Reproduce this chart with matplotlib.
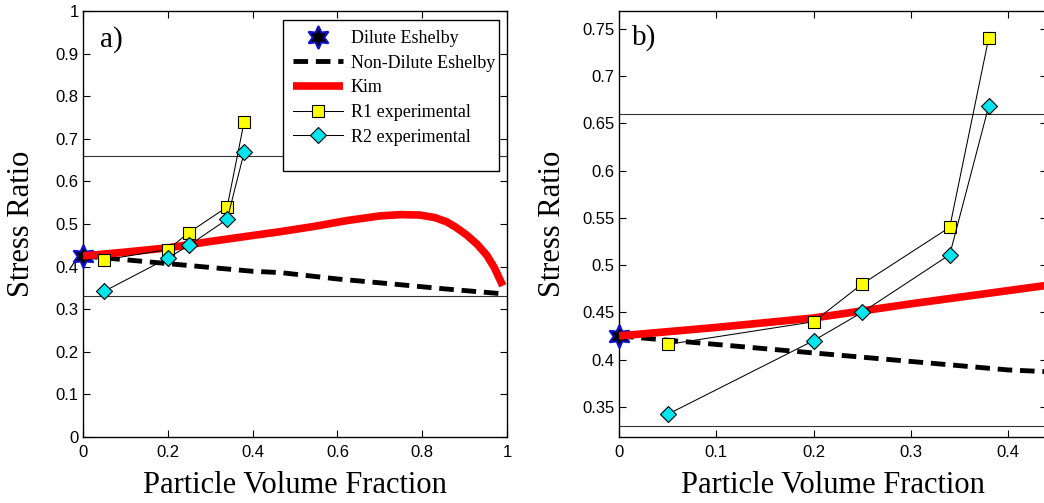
import matplotlib
matplotlib.use("Agg")
import matplotlib.pyplot as plt
from matplotlib.patches import Rectangle

# data
dilute_x = [0.0]
dilute_y = [0.425]

nondilute_x = [0.0, 0.1, 0.2, 0.3, 0.4, 0.465, 0.6, 0.732, 0.85, 0.98]
nondilute_y = [0.425, 0.416, 0.407, 0.398, 0.389, 0.386, 0.371, 0.359, 0.348, 0.337]

kim_x = [0.0, 0.1, 0.2, 0.3, 0.4, 0.465, 0.543, 0.622, 0.7, 0.75, 0.795,
         0.83, 0.858, 0.88, 0.905, 0.93, 0.952, 0.97, 0.99]
kim_y = [0.425, 0.434, 0.444, 0.459, 0.473, 0.482, 0.494, 0.508, 0.519, 0.522, 0.521,
         0.515, 0.505, 0.492, 0.474, 0.452, 0.427, 0.398, 0.355]

r1_x = [0.05, 0.2, 0.25, 0.34, 0.38]
r1_y = [0.416, 0.44, 0.48, 0.54, 0.74]

r2_x = [0.05, 0.2, 0.25, 0.34, 0.38]
r2_y = [0.342, 0.42, 0.45, 0.511, 0.668]

ref_lines = [0.66, 0.33]

serif = "Liberation Serif"
sans = "Liberation Sans"


def draw_panel(ax, ylabelpad):
    for yv in ref_lines:
        ax.axhline(yv, color="#333333", lw=0.8, zorder=1)
    ax.plot(dilute_x, dilute_y, linestyle="none", marker=(6, 1, 0), markersize=16.5,
            markerfacecolor="black", markeredgecolor="#1010d0", markeredgewidth=1.5,
            label="Dilute Eshelby", zorder=3, clip_on=False)
    ax.plot(nondilute_x, nondilute_y, color="black", lw=3.5, dashes=(3, 1.6),
            label="Non-Dilute Eshelby", zorder=3)
    ax.plot(kim_x, kim_y, color="#ff0000", lw=5.5, solid_capstyle="butt",
            label="Kim", zorder=4)
    ax.plot(r1_x, r1_y, color="black", lw=0.75, marker="s", markersize=9,
            markerfacecolor="#ffff00", markeredgecolor="black", markeredgewidth=0.8,
            label="R1 experimental", zorder=5)
    ax.plot(r2_x, r2_y, color="black", lw=0.75, marker="D", markersize=8,
            markerfacecolor="#00e5ee", markeredgecolor="black", markeredgewidth=0.8,
            label="R2 experimental", zorder=6)

    ax.tick_params(direction="in", length=5, width=0.8, top=True, right=True,
                   labelsize=12)
    ax.tick_params(axis="x", pad=6)
    ax.tick_params(axis="y", pad=3)
    for lbl in ax.get_xticklabels() + ax.get_yticklabels():
        lbl.set_family(sans)
    for sp in ax.spines.values():
        sp.set_linewidth(1.0)
    ax.set_xlabel("Particle Volume Fraction", fontsize=22, family=serif, labelpad=8)
    ax.set_ylabel("Stress Ratio", fontsize=22, family=serif, labelpad=ylabelpad)


fig = plt.figure(figsize=(10.44, 5.03), dpi=100)

# panel a
ax1 = fig.add_axes([83 / 1044, 66 / 503, 424 / 1044, 426 / 503])
ax1.set_xlim(0, 1)
ax1.set_ylim(0, 1)
ax1.set_xticks([0, 0.2, 0.4, 0.6, 0.8, 1])
ax1.set_xticklabels(["0", "0.2", "0.4", "0.6", "0.8", "1"])
ax1.set_yticks([0, 0.1, 0.2, 0.3, 0.4, 0.5, 0.6, 0.7, 0.8, 0.9, 1])
ax1.set_yticklabels(["0", "0.1", "0.2", "0.3", "0.4", "0.5", "0.6", "0.7", "0.8", "0.9", "1"])
draw_panel(ax1, 14)
ax1.text(0.068, 0.932, "a)", transform=ax1.transAxes, fontsize=21, family=serif,
         ha="center", va="center")

# legend box (matlab style, extra space at bottom)
box = Rectangle((0.472, 0.624), 0.509, 0.355, transform=ax1.transAxes,
                facecolor="white", edgecolor="black", lw=1.0, zorder=10)
ax1.add_patch(box)
leg = ax1.legend(loc="upper left", bbox_to_anchor=(0.495, 0.955), frameon=False,
                 borderpad=0, borderaxespad=0, handlelength=2.8, handletextpad=0.4,
                 labelspacing=0.42, prop={"family": serif, "size": 13})
leg.set_zorder(11)

# panel b (cropped on the right like the original)
ax2 = fig.add_axes([619 / 1044, 66 / 503, 428 / 1044, 426 / 503])
ax2.set_xlim(0, 0.44)
ax2.set_ylim(0.318, 0.769)
ax2.set_xticks([0, 0.1, 0.2, 0.3, 0.4])
ax2.set_xticklabels(["0", "0.1", "0.2", "0.3", "0.4"])
ax2.set_yticks([0.35, 0.4, 0.45, 0.5, 0.55, 0.6, 0.65, 0.7, 0.75])
ax2.set_yticklabels(["0.35", "0.4", "0.45", "0.5", "0.55", "0.6", "0.65", "0.7", "0.75"])
draw_panel(ax2, 11)
ax2.text(0.059, 0.937, "b)", transform=ax2.transAxes, fontsize=21, family=serif,
         ha="center", va="center")

fig.savefig("out.png", dpi=100, facecolor="white")
